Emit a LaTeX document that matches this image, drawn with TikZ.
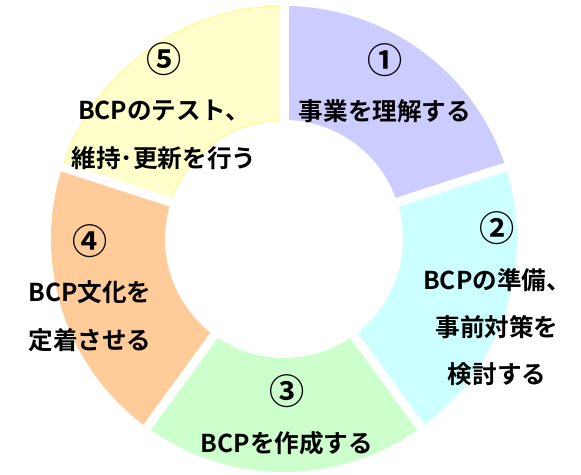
\documentclass[tikz,border=0pt]{standalone}
\usepackage{fontspec}
\newfontfamily\jpfont{Noto Sans CJK JP}[BoldFont={Noto Sans CJK JP Bold}]
\usepackage{tikz}
\usetikzlibrary{calc}

\definecolor{stepone}{RGB}{204,204,255}
\definecolor{steptwo}{RGB}{204,255,255}
\definecolor{stepthree}{RGB}{204,255,204}
\definecolor{stepfour}{RGB}{255,204,153}
\definecolor{stepfive}{RGB}{255,255,204}

\newcommand{\stepnum}[1]{{\fontsize{20}{27}\selectfont #1}}

\tikzset{
    label/.style={align=center, font=\jpfont\bfseries\fontsize{14}{27}\selectfont},
    gap/.style={white, line width=0.18cm}
}

\begin{document}
\begin{tikzpicture}[x=0.02cm, y=0.02cm]
        \useasboundingbox (0,0) rectangle (581,475);
        \coordinate (O) at (284,236);
        \def\R{233}
        \def\r{119}

        \fill[stepone] ($(O)+(90:\R)$) arc[start angle=90, end angle=18, radius=\R]
            -- ($(O)+(18:\r)$) arc[start angle=18, end angle=90, radius=\r] -- cycle;
        \fill[steptwo] ($(O)+(18:\R)$) arc[start angle=18, end angle=-54, radius=\R]
            -- ($(O)+(-54:\r)$) arc[start angle=-54, end angle=18, radius=\r] -- cycle;
        \fill[stepthree] ($(O)+(-54:\R)$) arc[start angle=-54, end angle=-126, radius=\R]
            -- ($(O)+(-126:\r)$) arc[start angle=-126, end angle=-54, radius=\r] -- cycle;
        \fill[stepfour] ($(O)+(-126:\R)$) arc[start angle=-126, end angle=-198, radius=\R]
            -- ($(O)+(-198:\r)$) arc[start angle=-198, end angle=-126, radius=\r] -- cycle;
        \filldraw[fill=stepfive, draw=yellow!45, line width=0.6pt] ($(O)+(162:\R)$) arc[start angle=162, end angle=90, radius=\R]
            -- ($(O)+(90:\r)$) arc[start angle=90, end angle=162, radius=\r] -- cycle;

        \draw[gap] ($(O)+(90:\r-5)$) -- ($(O)+(90:\R+5)$);
        \draw[gap] ($(O)+(18:\r-5)$) -- ($(O)+(18:\R+5)$);
        \draw[gap] ($(O)+(-54:\r-5)$) -- ($(O)+(-54:\R+5)$);
        \draw[gap] ($(O)+(-126:\r-5)$) -- ($(O)+(-126:\R+5)$);
        \draw[gap] ($(O)+(162:\r-5)$) -- ($(O)+(162:\R+5)$);

        \node[label] (understand) at (385,392) {\stepnum{①}\\事業を理解する};
        \node[label] (prepare) at (497,176) {\stepnum{②}\\BCPの準備、\\事前対策を\\検討する};
        \node[label] (create) at (287,60) {\stepnum{③}\\BCPを作成する};
        \node[label] (culture) at (90,187) {\stepnum{④}\\BCP文化を\\定着させる};
        \node[label] (test) at (164,369) {\stepnum{⑤}\\BCPのテスト、\\維持･更新を行う};
\end{tikzpicture}
\end{document}
